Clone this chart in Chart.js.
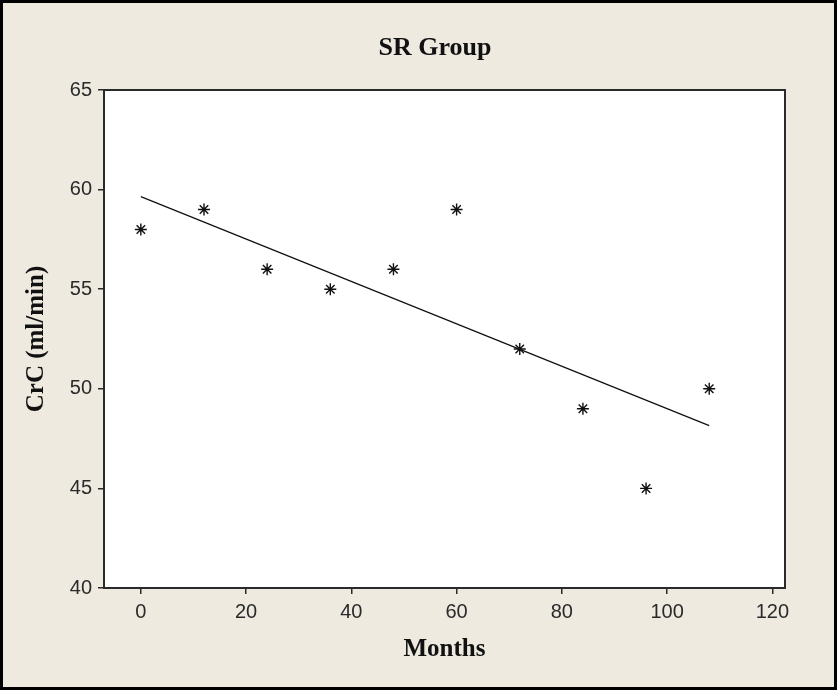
<!DOCTYPE html>
<html>
<head>
<meta charset="utf-8">
<script src="https://cdn.jsdelivr.net/npm/chart.js@4"></script>
<style>
  html, body { margin: 0; padding: 0; background: #eeeae0; }
  canvas { display: block; }
</style>
</head>
<body>
<canvas id="crcChart" width="837" height="690"></canvas>
<script>
const months = [0, 12, 24, 36, 48, 60, 72, 84, 96, 108];
const crc = [58, 59, 56, 55, 56, 59, 52, 49, 45, 50];

// fitted line, end points
const fitMonths = [0, 108];
const fitCrc = [59.65, 48.15];

const xTicks = [0, 20, 40, 60, 80, 100, 120];
const yTicks = [40, 45, 50, 55, 60, 65];

const chartTitle = 'SR Group';

const frame = {
  id: 'frame',
  beforeDraw(chart) {
    const ctx = chart.ctx;
    const a = chart.chartArea;
    ctx.save();
    ctx.fillStyle = '#eeeae0';
    ctx.fillRect(0, 0, chart.width, chart.height);
    ctx.fillStyle = '#ffffff';
    ctx.fillRect(a.left, a.top, a.right - a.left, a.bottom - a.top);
    ctx.restore();
  },
  afterDraw(chart) {
    const ctx = chart.ctx;
    const a = chart.chartArea;
    ctx.save();
    ctx.strokeStyle = '#2a2a2a';
    ctx.lineWidth = 2;
    ctx.strokeRect(a.left, a.top, a.right - a.left, a.bottom - a.top);
    // outer border
    ctx.strokeStyle = '#000';
    ctx.lineWidth = 3;
    ctx.strokeRect(1.5, 1.5, chart.width - 3, chart.height - 3);
    // title
    ctx.fillStyle = '#111';
    ctx.font = 'bold 26px "Liberation Serif", "Times New Roman", serif';
    ctx.textAlign = 'center';
    ctx.textBaseline = 'middle';
    ctx.fillText(chartTitle, 435, 48);
    ctx.restore();
  }
};

const tickFont = { family: '"Liberation Sans", Arial, sans-serif', size: 20 };
const titleFont = { family: '"Liberation Serif", "Times New Roman", serif', size: 25, weight: 'bold' };

new Chart(document.getElementById('crcChart'), {
  type: 'scatter',
  data: {
    datasets: [{
      data: months.map((m, i) => ({ x: m, y: crc[i] })),
      pointStyle: 'star',
      radius: 6,
      borderColor: '#111',
      borderWidth: 1.4,
      backgroundColor: '#111',
      showLine: false
    }, {
      data: fitMonths.map((m, i) => ({ x: m, y: fitCrc[i] })),
      showLine: true,
      borderColor: '#111',
      borderWidth: 1.3,
      pointRadius: 0,
      fill: false
    }]
  },
  options: {
    responsive: false,
    animation: false,
    layout: { padding: { top: 90, right: 52, left: 0, bottom: 0 } },
    plugins: { legend: { display: false }, tooltip: { enabled: false } },
    scales: {
      x: {
        type: 'linear',
        min: -7,
        max: 122.4,
        afterBuildTicks: s => { s.ticks = xTicks.map(v => ({ value: v })); },
        afterFit: s => { s.height = 102; },
        border: { display: false },
        grid: { drawOnChartArea: false, drawTicks: true, tickLength: 6, tickColor: '#2a2a2a', lineWidth: 1.5 },
        ticks: { color: '#2a2a2a', font: tickFont, padding: 6, maxRotation: 0 },
        title: { display: true, text: 'Months', color: '#111', font: titleFont, padding: { top: 0, bottom: 25 } }
      },
      y: {
        min: 40,
        max: 65,
        afterBuildTicks: s => { s.ticks = yTicks.map(v => ({ value: v })); },
        afterFit: s => { s.width = 104; },
        border: { display: false },
        grid: { drawOnChartArea: false, drawTicks: true, tickLength: 6, tickColor: '#2a2a2a', lineWidth: 1.5 },
        ticks: { color: '#2a2a2a', font: tickFont, padding: 6 },
        title: { display: true, text: 'CrC (ml/min)', color: '#111', font: titleFont, padding: { top: 22, bottom: 0 } }
      }
    }
  },
  plugins: [frame]
});
</script>
</body>
</html>
